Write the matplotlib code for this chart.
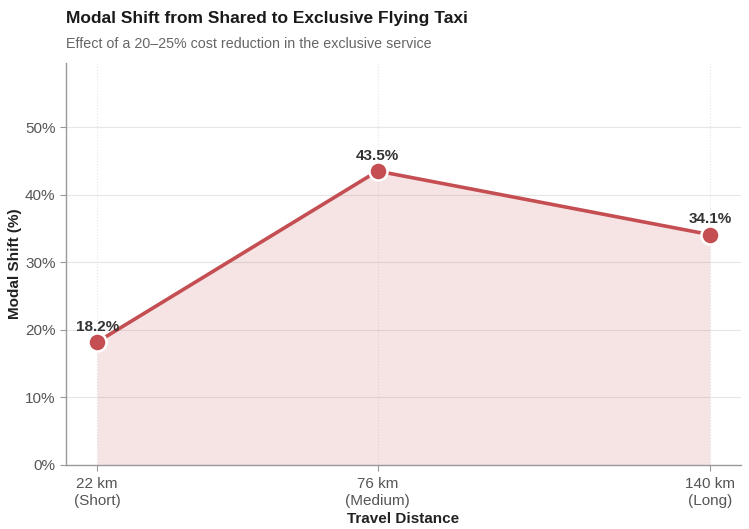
import numpy as np
import matplotlib.pyplot as plt
from matplotlib.ticker import PercentFormatter

plt.rcParams['font.family'] = ['Liberation Sans', 'DejaVu Sans']

distance_km = [22, 76, 140]
tick_labels = ["22 km\n(Short)", "76 km\n(Medium)", "140 km\n(Long)"]
modal_shift = [18.2, 43.5, 34.1]

RED = "#C44E52"

fig = plt.figure(figsize=(7.49, 5.29), dpi=100)
ax = fig.add_axes([0.0881, 0.121, 0.9012, 0.760])

ax.fill_between(distance_km, modal_shift, 0, color=RED, alpha=0.15, lw=0, zorder=1)
ax.plot(distance_km, modal_shift, "-", color=RED, lw=2.6, zorder=3)
ax.plot(distance_km, modal_shift, "o", color=RED, ms=13, mec="white", mew=1.8, zorder=4)

for x, y in zip(distance_km, modal_shift):
    ax.annotate(f"{y:.1f}%", (x, y), xytext=(0, 6), textcoords="offset points",
                ha="center", va="bottom", fontsize=11, fontweight="bold",
                color="#333333", zorder=5)

ax.set_xlim(16, 146)
ax.set_ylim(0, 59.5)
ax.set_xticks(distance_km)
ax.set_xticklabels(tick_labels)
ax.set_yticks(np.arange(0, 51, 10))
ax.yaxis.set_major_formatter(PercentFormatter(decimals=0))
ax.tick_params(labelsize=11, colors="#555555", length=4, color="#999999")
ax.tick_params(axis="x", pad=5)

ax.grid(axis="y", color="#e6e6e6", lw=0.8, zorder=0)
ax.grid(axis="x", color="#e6e6e6", lw=0.8, ls=":", zorder=0)
ax.set_axisbelow(True)

for s in ["top", "right"]:
    ax.spines[s].set_visible(False)
for s in ["left", "bottom"]:
    ax.spines[s].set_color("#999999")
    ax.spines[s].set_linewidth(1.0)

ax.set_xlabel("Travel Distance", fontsize=11, fontweight="bold", color="#222222", labelpad=3)
ax.set_ylabel("Modal Shift (%)", fontsize=11, fontweight="bold", color="#222222", labelpad=2)

fig.text(0.0881, 0.957, "Modal Shift from Shared to Exclusive Flying Taxi",
         fontsize=12.5, fontweight="bold", color="#1a1a1a", ha="left", va="baseline")
fig.text(0.0881, 0.91, "Effect of a 20\u201325% cost reduction in the exclusive service",
         fontsize=10.25, color="#666666", ha="left", va="baseline")

fig.savefig("out.png", dpi=100)
